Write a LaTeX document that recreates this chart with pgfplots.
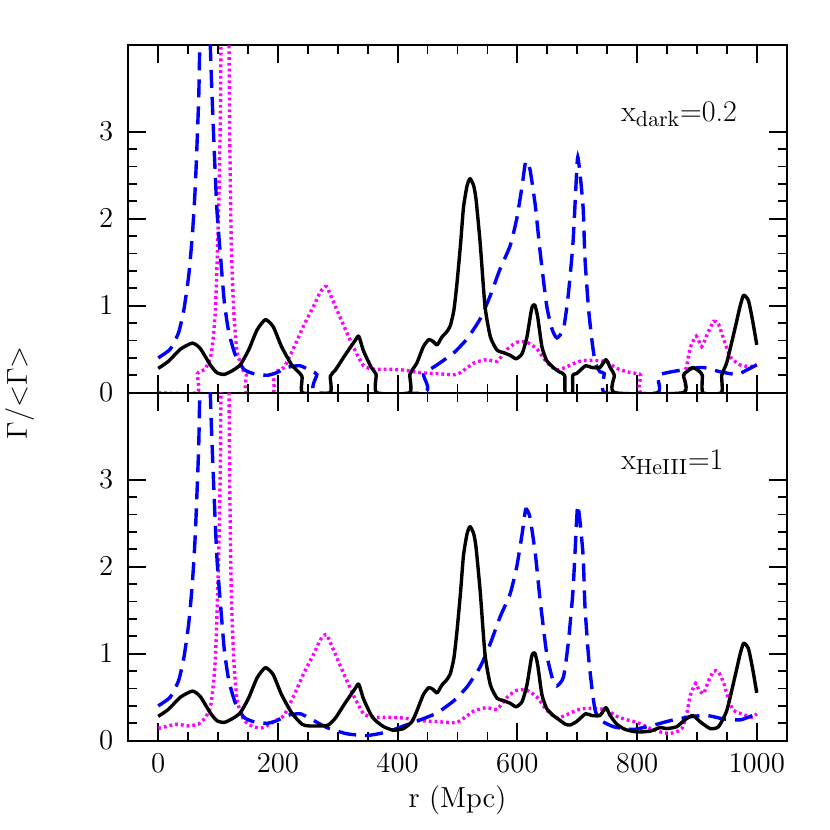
\documentclass[border=0pt]{standalone}
\usepackage{pgfplots}
\usepackage{pgfplotstable}
\pgfplotsset{compat=1.18}
\definecolor{sm magenta}{RGB}{255,0,255}
\definecolor{sm blue}{RGB}{0,0,255}

% bottom panel (x_HeIII = 1)
\pgfplotstableread{
x y
0 0.28
17 0.36
37 0.50
57 0.57
70 0.51
87 0.32
98 0.23
110 0.21
123 0.25
137 0.32
151 0.49
165 0.72
179 0.84
192 0.76
206 0.53
223 0.32
240 0.19
251 0.17
268 0.17
284 0.18
296 0.26
312 0.43
329 0.60
335 0.65
343 0.48
356 0.29
365 0.22
377 0.16
393 0.12
410 0.14
424 0.22
432 0.34
443 0.53
452 0.61
459 0.59
466 0.55
474 0.64
482 0.70
488 0.77
494 0.95
499 1.25
505 1.70
510 2.13
516 2.38
521 2.46
527 2.38
531 2.22
538 1.71
546 0.99
555 0.64
566 0.49
577 0.46
588 0.43
598 0.39
608 0.45
616 0.64
624 0.97
629 1.01
634 0.87
641 0.53
649 0.37
660 0.29
670 0.24
680 0.19
688 0.18
699 0.22
714 0.31
724 0.29
738 0.29
748 0.38
755 0.29
766 0.19
780 0.13
800 0.10
822 0.11
838 0.15
850 0.14
866 0.16
880 0.24
893 0.29
905 0.22
922 0.14
936 0.16
950 0.35
964 0.75
972 0.99
978 1.12
986 1.06
993 0.83
1000 0.55
}\botblack

\pgfplotstableread{
x y
0 0.40
20 0.50
34 0.69
43 0.96
51 1.35
57 1.81
62 2.38
67.6 3.38
70 4.2
78 6.5
87 4.0
93 2.88
98 2.11
104 1.57
110.5 1.04
118 0.69
129 0.43
143 0.27
159 0.22
182 0.20
198 0.23
215 0.29
237 0.31
255 0.25
282 0.15
315 0.08
349 0.06
382 0.10
410 0.17
438 0.24
466 0.32
494 0.46
516 0.62
538 0.85
555 1.12
571 1.42
588 1.69
599 2.00
608 2.38
614 2.66
621 2.57
630 2.15
638 1.62
649 1.00
658 0.73
666 0.63
677 0.73
685 1.12
693 1.73
699 2.53
701 2.71
705 2.50
710 2.11
713 1.54
719 0.96
725 0.58
730 0.35
738 0.24
761 0.16
794 0.13
828 0.18
861 0.24
895 0.28
917 0.29
945 0.25
973 0.24
1000 0.31
}\botblue

\pgfplotstableread{
x y
0 0.14
17 0.17
32 0.19
50 0.17
67 0.19
78 0.26
86 0.36
90 0.51
95.6 0.96
101 2.11
104 3.26
105 4.2
111 9
118 4.2
119.6 2.88
122 1.73
126 0.96
131.7 0.47
143 0.24
159 0.16
176 0.15
193 0.22
210 0.29
226 0.51
243 0.77
260 1.00
271 1.16
281 1.22
293 1.04
310 0.77
327 0.51
343 0.31
360 0.27
383 0.27
410 0.26
438 0.23
466 0.22
499 0.21
527 0.34
549 0.38
566 0.36
583 0.50
599 0.58
616 0.58
633 0.50
649 0.35
666 0.26
683 0.30
699 0.35
711 0.37
733 0.37
750 0.35
766 0.28
783 0.24
800 0.21
822 0.14
845 0.09
861 0.09
875 0.14
883 0.31
889 0.52
898 0.66
903 0.59
911 0.54
919 0.68
928 0.80
936 0.79
945 0.66
953 0.47
961 0.35
978 0.30
992 0.27
1000 0.31
}\botmag

% top panel (x_dark = 0.2)
\pgfplotstableread{
x y
0 0.28
17 0.36
37 0.50
57 0.57
70 0.51
87 0.32
98 0.23
110 0.21
123 0.25
137 0.32
151 0.49
165 0.72
179 0.84
192 0.76
206 0.53
223 0.32
240 0.19
241 0
287 0
287.5 0.19
296 0.26
312 0.43
329 0.60
335 0.65
343 0.48
356 0.29
364 0.21
365 0
420 0
420.5 0.21
432 0.34
443 0.53
452 0.61
459 0.59
466 0.55
474 0.64
482 0.70
488 0.77
494 0.95
499 1.25
505 1.70
510 2.13
516 2.38
521 2.46
527 2.38
531 2.22
538 1.71
546 0.99
555 0.64
566 0.49
577 0.46
588 0.43
598 0.39
608 0.45
616 0.64
624 0.97
629 1.01
634 0.87
641 0.53
649 0.37
660 0.29
670 0.24
679 0.20
680 0
692 0
692.5 0.20
699 0.22
714 0.31
724 0.29
738 0.29
748 0.38
755 0.29
762 0.20
763 0
877 0
877.5 0.20
883 0.24
893 0.29
903 0.25
909 0.20
910 0
941 0
941.5 0.20
950 0.35
964 0.75
972 0.99
978 1.12
986 1.06
993 0.83
1000 0.55
}\topblack

\pgfplotstableread{
x y
0 0.40
20 0.50
34 0.69
43 0.96
51 1.35
57 1.81
62 2.38
67.6 3.38
70 4.2
78 6.5
87 4.0
93 2.88
98 2.11
104 1.57
110.5 1.04
118 0.69
129 0.43
143 0.27
159 0.22
182 0.20
198 0.23
215 0.29
237 0.31
255 0.25
265 0.21
266 0
443 0
443.5 0.21
466 0.32
494 0.46
516 0.62
538 0.85
555 1.12
571 1.42
588 1.69
599 2.00
608 2.38
614 2.66
621 2.57
630 2.15
638 1.62
649 1.00
658 0.73
666 0.63
677 0.73
685 1.12
693 1.73
699 2.53
701 2.71
705 2.50
710 2.11
713 1.54
719 0.96
725 0.58
730 0.35
738 0.24
745 0.22
746 0
834 0
834.5 0.19
850 0.23
883 0.27
911 0.29
939 0.24
967 0.21
983 0.26
1000 0.32
}\topblue

\pgfplotstableread{
x y
0 0
65 0
65.5 0.22
78 0.27
86 0.38
90 0.51
95.6 0.96
101 2.11
104 3.26
105 4.2
111 9
118 4.2
119.6 2.88
122 1.73
126 0.96
131.7 0.47
143 0.24
147 0.21
147.5 0
192 0
192.5 0.22
210 0.29
226 0.51
243 0.77
260 1.00
271 1.16
281 1.22
293 1.04
310 0.77
327 0.51
343 0.31
360 0.27
383 0.27
410 0.26
438 0.23
466 0.22
499 0.21
527 0.34
549 0.38
566 0.36
583 0.50
599 0.58
616 0.58
633 0.50
649 0.35
666 0.26
683 0.30
699 0.35
711 0.37
733 0.37
750 0.35
766 0.28
783 0.24
800 0.22
806 0.20
806.5 0
878 0
878.5 0.20
883 0.31
889 0.52
899 0.65
908 0.53
916.5 0.66
928 0.82
936 0.79
945 0.61
956 0.41
972 0.32
989 0.30
1000 0.32
}\topmag

\pgfplotsset{
  panel/.style={
    scale only axis, width=329.2pt, height=174pt,
    xmin=-50, xmax=1050, ymin=0, ymax=4,
    xtick distance=200, minor x tick num=3,
    ytick={0,1,2,3}, minor y tick num=4,
    tick align=inside, xtick pos=both, ytick pos=both,
    major tick length=9pt, minor tick length=4.5pt,
    axis line style={line width=1pt},
    every tick/.style={line width=0.9pt, black},
    tick label style={font=\fontsize{14.5}{16}\selectfont},
    /pgf/number format/1000 sep={},
    yticklabel style={xshift=-4pt},
    xticklabel style={yshift=-3pt},
  },
  kline/.style={black, line width=1.7pt, line join=round, smooth, tension=0.35},
  bline/.style={sm blue, line width=1.7pt, dash pattern=on 9pt off 4.5pt, smooth, tension=0.35},
  mline/.style={sm magenta, line width=1.7pt, dash pattern=on 1.4pt off 1.5pt, smooth, tension=0.35},
}

\begin{document}
\begin{tikzpicture}
\useasboundingbox (-64.15pt,-218.65pt) rectangle (350.85pt,196.35pt);
\begin{axis}[panel, at={(0,0)}, anchor=south west,
  xticklabels={},
  ylabel={$\Gamma/{<}\Gamma{>}$},
  every axis y label/.style={at={(axis description cs:-0.165,0)}, rotate=90, anchor=center,
    font=\fontsize{14}{16}\selectfont},
]
  \addplot[mline] table[x=x, y=y] {\topmag};
  \addplot[bline] table[x=x, y=y] {\topblue};
  \addplot[kline] table[x=x, y=y] {\topblack};
  \node[anchor=base west, font=\fontsize{15}{17}\selectfont] at (axis cs:762,3.12) {x$_{\mathrm{dark}}$=0.2};
\end{axis}
\begin{axis}[panel, at={(0,0)}, anchor=north west,
  xlabel={r (Mpc)},
  every axis x label/.style={at={(axis description cs:0.5,-0.17)}, anchor=center,
    font=\fontsize{14.5}{16}\selectfont},
]
  \addplot[mline] table[x=x, y=y] {\botmag};
  \addplot[bline] table[x=x, y=y] {\botblue};
  \addplot[kline] table[x=x, y=y] {\botblack};
  \node[anchor=base west, font=\fontsize{15}{17}\selectfont] at (axis cs:762,3.12) {x$_{\mathrm{HeIII}}$=1};
\end{axis}
\end{tikzpicture}
\end{document}
